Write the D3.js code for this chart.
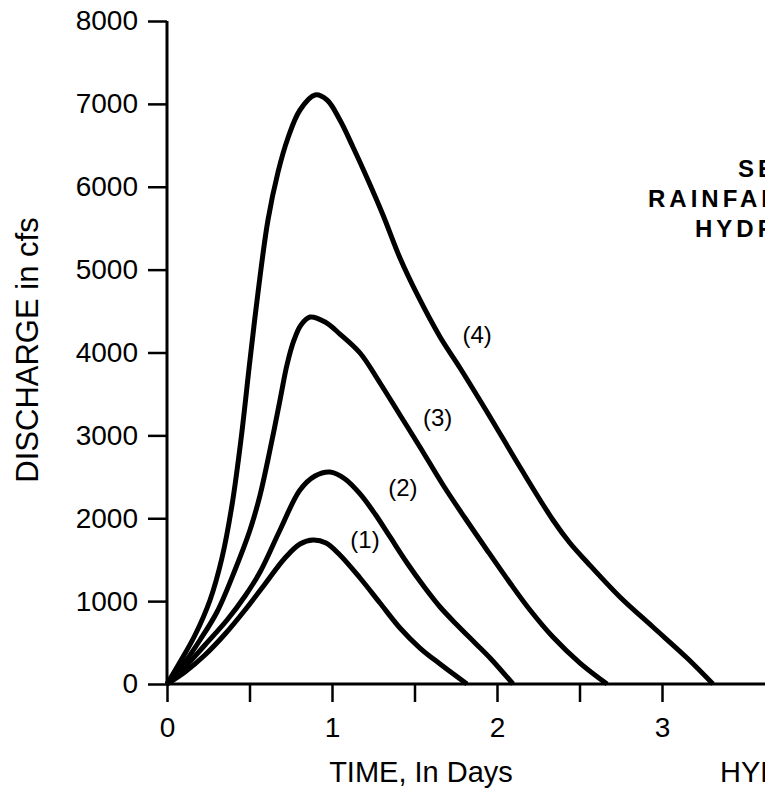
<!DOCTYPE html>
<html>
<head>
<meta charset="utf-8">
<script src="https://cdn.jsdelivr.net/npm/d3@7/dist/d3.min.js"></script>
<style>
  body { margin: 0; background: #fff; }
  svg { display: block; font-family: "Liberation Sans", Arial, Helvetica, sans-serif; }
</style>
</head>
<body>
<svg id="chart" width="765" height="795"></svg>
<script>
// time in days, discharge in cfs
const curve1 = [[0,0],[0.109,145],[0.230,350],[0.352,603],[0.473,893],[0.594,1207],[0.715,1520],[0.806,1689],[0.885,1738],[0.964,1701],[1.048,1557],[1.170,1279],[1.291,977],[1.412,676],[1.533,434],[1.655,241],[1.818,0]];
const curve2 = [[0,0],[0.109,205],[0.230,471],[0.364,772],[0.473,1062],[0.564,1351],[0.685,1858],[0.806,2341],[0.897,2510],[0.988,2558],[1.079,2474],[1.170,2293],[1.261,2051],[1.352,1774],[1.455,1460],[1.564,1158],[1.655,929],[1.758,712],[1.867,495],[1.958,314],[2.097,0]];
const curve3 = [[0,0],[0.109,265],[0.200,531],[0.303,869],[0.412,1376],[0.503,1858],[0.564,2280],[0.624,2823],[0.685,3427],[0.727,3849],[0.770,4151],[0.812,4332],[0.867,4428],[0.958,4368],[1.048,4223],[1.170,3994],[1.291,3632],[1.412,3246],[1.533,2860],[1.673,2401],[1.806,2003],[1.939,1617],[2.079,1219],[2.200,893],[2.339,567],[2.503,253],[2.667,0]];
const curve4 = [[0,0],[0.079,265],[0.170,591],[0.261,1014],[0.333,1520],[0.394,2160],[0.448,2944],[0.503,3909],[0.552,4730],[0.612,5599],[0.673,6178],[0.733,6588],[0.806,6926],[0.897,7107],[0.970,7047],[1.048,6805],[1.127,6479],[1.218,6081],[1.309,5659],[1.412,5140],[1.521,4682],[1.655,4187],[1.776,3813],[1.958,3222],[2.139,2618],[2.339,1979],[2.442,1701],[2.545,1472],[2.745,1050],[2.945,688],[3.152,314],[3.309,0]];
const curves = [curve1, curve2, curve3, curve4];

const curveLabels = ["(1)", "(2)", "(3)", "(4)"];
const labelAt = [[1.2,1737],[1.43,2364],[1.64,3209],[1.88,4210]];

const yTicks = [0,1000,2000,3000,4000,5000,6000,7000,8000];
const xTicks = [0,0.5,1,1.5,2,2.5,3];
const xTickLabels = {0:"0", 1:"1", 2:"2", 3:"3"};

const titleLines = ["SELECTED", "RAINFALL", "HYDROGRAPHS"];

const svg = d3.select("#chart");

const x = d3.scaleLinear().domain([0, 4]).range([167, 827]);
const y = d3.scaleLinear().domain([0, 8000]).range([684, 21]);

// y axis
const yAxis = svg.append("g")
  .attr("transform", "translate(" + x(0) + ",0)")
  .call(d3.axisLeft(y).tickValues(yTicks).tickSize(19).tickPadding(10).tickFormat(d => d));
yAxis.select(".domain").attr("d", "M0," + y(8000) + "V" + y(0)).attr("stroke-width", 3);
yAxis.selectAll(".tick line").attr("stroke-width", 2.5);
yAxis.selectAll(".tick text").attr("font-size", 28).attr("fill", "#000");

// x axis
const xAxis = svg.append("g")
  .attr("transform", "translate(0," + y(0) + ")")
  .call(d3.axisBottom(x).tickValues(xTicks).tickSize(18).tickPadding(15)
    .tickFormat(d => xTickLabels[d] || ""));
xAxis.select(".domain").attr("d", "M" + x(0) + ",0H765").attr("stroke-width", 3);
xAxis.selectAll(".tick line").attr("stroke-width", 2.5);
xAxis.selectAll(".tick text").attr("font-size", 28).attr("fill", "#000");

// hydrographs
const line = d3.line()
  .x(d => x(d[0]))
  .y(d => y(d[1]))
  .curve(d3.curveCatmullRom.alpha(0.5));

svg.append("g").selectAll("path")
  .data(curves)
  .enter()
  .append("path")
  .attr("d", line)
  .attr("fill", "none")
  .attr("stroke", "#000")
  .attr("stroke-width", 5)
  .attr("stroke-linejoin", "round");

svg.append("g").selectAll("text")
  .data(curveLabels)
  .enter()
  .append("text")
  .attr("x", (d, i) => x(labelAt[i][0]))
  .attr("y", (d, i) => y(labelAt[i][1]))
  .attr("dy", "0.35em")
  .attr("text-anchor", "middle")
  .attr("font-size", 24)
  .text(d => d);

// axis titles
svg.append("text")
  .attr("transform", "translate(38,350) rotate(-90)")
  .attr("text-anchor", "middle")
  .attr("font-size", 31)
  .text("DISCHARGE in cfs");

svg.append("text")
  .attr("x", 421)
  .attr("y", 782)
  .attr("text-anchor", "middle")
  .attr("font-size", 29)
  .text("TIME, In Days");

svg.append("text")
  .attr("x", 720)
  .attr("y", 782)
  .attr("font-size", 29)
  .text("HYDROGRAPHS");

// title, cut off at the right edge as in the source figure
const titleX = [738, 648, 695];
svg.append("g").selectAll("text")
  .data(titleLines)
  .enter()
  .append("text")
  .attr("x", (d, i) => titleX[i])
  .attr("y", (d, i) => 177 + i * 30)
  .attr("font-size", 24)
  .attr("font-weight", "bold")
  .attr("letter-spacing", 4)
  .text(d => d);
</script>
</body>
</html>
